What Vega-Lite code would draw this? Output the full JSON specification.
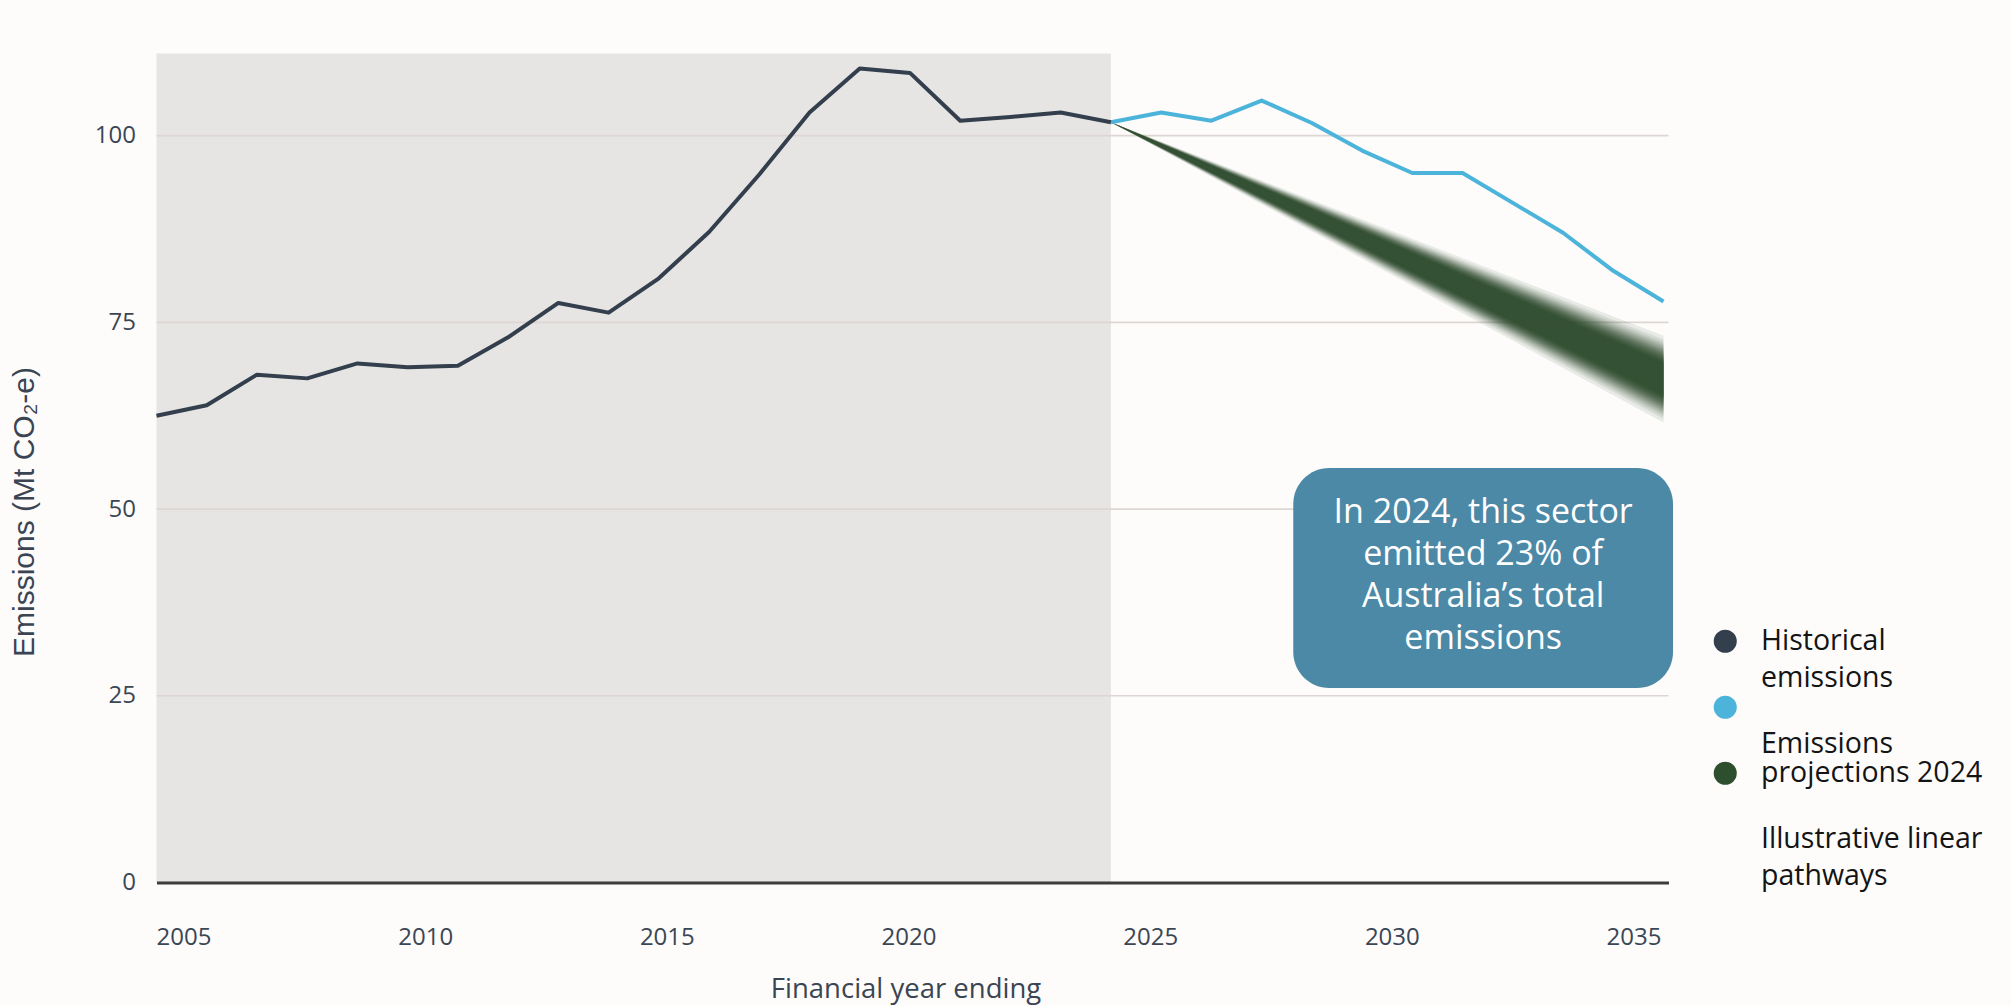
{
  "$schema": "https://vega.github.io/schema/vega-lite/v6.json",
  "width": 1512,
  "height": 829,
  "autosize": {"type": "none"},
  "padding": {"left": 156.5, "top": 53.5, "right": 342.5, "bottom": 123.5},
  "background": "#fdfcfb",
  "config": {
    "view": {"stroke": null},
    "font": "Open Sans",
    "style": {"guide-label": {"lineHeight": 37}}
  },
  "datasets": {
    "historical": [
      {"series": "Historical emissions", "year": 2005, "value": 62.5},
      {"series": "Historical emissions", "year": 2006, "value": 63.9},
      {"series": "Historical emissions", "year": 2007, "value": 68.0},
      {"series": "Historical emissions", "year": 2008, "value": 67.5},
      {"series": "Historical emissions", "year": 2009, "value": 69.5},
      {"series": "Historical emissions", "year": 2010, "value": 69.0},
      {"series": "Historical emissions", "year": 2011, "value": 69.2},
      {"series": "Historical emissions", "year": 2012, "value": 73.0},
      {"series": "Historical emissions", "year": 2013, "value": 77.6},
      {"series": "Historical emissions", "year": 2014, "value": 76.3},
      {"series": "Historical emissions", "year": 2015, "value": 80.9},
      {"series": "Historical emissions", "year": 2016, "value": 87.1},
      {"series": "Historical emissions", "year": 2017, "value": 94.8},
      {"series": "Historical emissions", "year": 2018, "value": 103.1},
      {"series": "Historical emissions", "year": 2019, "value": 109.0},
      {"series": "Historical emissions", "year": 2020, "value": 108.4},
      {"series": "Historical emissions", "year": 2021, "value": 102.0},
      {"series": "Historical emissions", "year": 2022, "value": 102.5},
      {"series": "Historical emissions", "year": 2023, "value": 103.1},
      {"series": "Historical emissions", "year": 2024, "value": 101.8}
    ],
    "projections": [
      {"series": "Emissions projections 2024", "year": 2024, "value": 101.8},
      {"series": "Emissions projections 2024", "year": 2025, "value": 103.1},
      {"series": "Emissions projections 2024", "year": 2026, "value": 102.0},
      {"series": "Emissions projections 2024", "year": 2027, "value": 104.7},
      {"series": "Emissions projections 2024", "year": 2028, "value": 101.7},
      {"series": "Emissions projections 2024", "year": 2029, "value": 98.0},
      {"series": "Emissions projections 2024", "year": 2030, "value": 95.0},
      {"series": "Emissions projections 2024", "year": 2031, "value": 95.0},
      {"series": "Emissions projections 2024", "year": 2032, "value": 91.0},
      {"series": "Emissions projections 2024", "year": 2033, "value": 87.0},
      {"series": "Emissions projections 2024", "year": 2034, "value": 81.9},
      {"series": "Emissions projections 2024", "year": 2035, "value": 77.8}
    ],
    "pathways": [
      {"series": "Illustrative linear pathways", "band": 1, "year": 2024, "lo": 101.8, "hi": 101.8},
      {"series": "Illustrative linear pathways", "band": 1, "year": 2035, "lo": 61.60, "hi": 73.20},
      {"series": "Illustrative linear pathways", "band": 2, "year": 2024, "lo": 101.8, "hi": 101.8},
      {"series": "Illustrative linear pathways", "band": 2, "year": 2035, "lo": 62.10, "hi": 72.70},
      {"series": "Illustrative linear pathways", "band": 3, "year": 2024, "lo": 101.8, "hi": 101.8},
      {"series": "Illustrative linear pathways", "band": 3, "year": 2035, "lo": 62.44, "hi": 72.36},
      {"series": "Illustrative linear pathways", "band": 4, "year": 2024, "lo": 101.8, "hi": 101.8},
      {"series": "Illustrative linear pathways", "band": 4, "year": 2035, "lo": 62.70, "hi": 72.10},
      {"series": "Illustrative linear pathways", "band": 5, "year": 2024, "lo": 101.8, "hi": 101.8},
      {"series": "Illustrative linear pathways", "band": 5, "year": 2035, "lo": 62.92, "hi": 71.89},
      {"series": "Illustrative linear pathways", "band": 6, "year": 2024, "lo": 101.8, "hi": 101.8},
      {"series": "Illustrative linear pathways", "band": 6, "year": 2035, "lo": 63.10, "hi": 71.70},
      {"series": "Illustrative linear pathways", "band": 7, "year": 2024, "lo": 101.8, "hi": 101.8},
      {"series": "Illustrative linear pathways", "band": 7, "year": 2035, "lo": 63.27, "hi": 71.53},
      {"series": "Illustrative linear pathways", "band": 8, "year": 2024, "lo": 101.8, "hi": 101.8},
      {"series": "Illustrative linear pathways", "band": 8, "year": 2035, "lo": 63.42, "hi": 71.38},
      {"series": "Illustrative linear pathways", "band": 9, "year": 2024, "lo": 101.8, "hi": 101.8},
      {"series": "Illustrative linear pathways", "band": 9, "year": 2035, "lo": 63.56, "hi": 71.24},
      {"series": "Illustrative linear pathways", "band": 10, "year": 2024, "lo": 101.8, "hi": 101.8},
      {"series": "Illustrative linear pathways", "band": 10, "year": 2035, "lo": 63.69, "hi": 71.11},
      {"series": "Illustrative linear pathways", "band": 11, "year": 2024, "lo": 101.8, "hi": 101.8},
      {"series": "Illustrative linear pathways", "band": 11, "year": 2035, "lo": 63.81, "hi": 70.99},
      {"series": "Illustrative linear pathways", "band": 12, "year": 2024, "lo": 101.8, "hi": 101.8},
      {"series": "Illustrative linear pathways", "band": 12, "year": 2035, "lo": 63.92, "hi": 70.88},
      {"series": "Illustrative linear pathways", "band": 13, "year": 2024, "lo": 101.8, "hi": 101.8},
      {"series": "Illustrative linear pathways", "band": 13, "year": 2035, "lo": 64.03, "hi": 70.77},
      {"series": "Illustrative linear pathways", "band": 14, "year": 2024, "lo": 101.8, "hi": 101.8},
      {"series": "Illustrative linear pathways", "band": 14, "year": 2035, "lo": 64.13, "hi": 70.67},
      {"series": "Illustrative linear pathways", "band": 15, "year": 2024, "lo": 101.8, "hi": 101.8},
      {"series": "Illustrative linear pathways", "band": 15, "year": 2035, "lo": 64.23, "hi": 70.58},
      {"series": "Illustrative linear pathways", "band": 16, "year": 2024, "lo": 101.8, "hi": 101.8},
      {"series": "Illustrative linear pathways", "band": 16, "year": 2035, "lo": 64.32, "hi": 70.48},
      {"series": "Illustrative linear pathways", "band": 17, "year": 2024, "lo": 101.8, "hi": 101.8},
      {"series": "Illustrative linear pathways", "band": 17, "year": 2035, "lo": 64.41, "hi": 70.39},
      {"series": "Illustrative linear pathways", "band": 18, "year": 2024, "lo": 101.8, "hi": 101.8},
      {"series": "Illustrative linear pathways", "band": 18, "year": 2035, "lo": 64.50, "hi": 70.31},
      {"series": "Illustrative linear pathways", "band": 19, "year": 2024, "lo": 101.8, "hi": 101.8},
      {"series": "Illustrative linear pathways", "band": 19, "year": 2035, "lo": 64.58, "hi": 70.22},
      {"series": "Illustrative linear pathways", "band": 20, "year": 2024, "lo": 101.8, "hi": 101.8},
      {"series": "Illustrative linear pathways", "band": 20, "year": 2035, "lo": 64.66, "hi": 70.14},
      {"series": "Illustrative linear pathways", "band": 21, "year": 2024, "lo": 101.8, "hi": 101.8},
      {"series": "Illustrative linear pathways", "band": 21, "year": 2035, "lo": 64.74, "hi": 70.06},
      {"series": "Illustrative linear pathways", "band": 22, "year": 2024, "lo": 101.8, "hi": 101.8},
      {"series": "Illustrative linear pathways", "band": 22, "year": 2035, "lo": 64.82, "hi": 69.98},
      {"series": "Illustrative linear pathways", "band": 23, "year": 2024, "lo": 101.8, "hi": 101.8},
      {"series": "Illustrative linear pathways", "band": 23, "year": 2035, "lo": 64.88, "hi": 69.92},
      {"series": "Illustrative linear pathways", "band": 24, "year": 2024, "lo": 101.8, "hi": 101.8},
      {"series": "Illustrative linear pathways", "band": 24, "year": 2035, "lo": 64.96, "hi": 69.84},
      {"series": "Illustrative linear pathways", "band": 25, "year": 2024, "lo": 101.8, "hi": 101.8},
      {"series": "Illustrative linear pathways", "band": 25, "year": 2035, "lo": 65.03, "hi": 69.77},
      {"series": "Illustrative linear pathways", "band": 26, "year": 2024, "lo": 101.8, "hi": 101.8},
      {"series": "Illustrative linear pathways", "band": 26, "year": 2035, "lo": 65.09, "hi": 69.71},
      {"series": "Illustrative linear pathways", "band": 27, "year": 2024, "lo": 101.8, "hi": 101.8},
      {"series": "Illustrative linear pathways", "band": 27, "year": 2035, "lo": 65.17, "hi": 69.64},
      {"series": "Illustrative linear pathways", "band": 28, "year": 2024, "lo": 101.8, "hi": 101.8},
      {"series": "Illustrative linear pathways", "band": 28, "year": 2035, "lo": 65.23, "hi": 69.57},
      {"series": "Illustrative linear pathways", "band": 29, "year": 2024, "lo": 101.8, "hi": 101.8},
      {"series": "Illustrative linear pathways", "band": 29, "year": 2035, "lo": 65.29, "hi": 69.51},
      {"series": "Illustrative linear pathways", "band": 30, "year": 2024, "lo": 101.8, "hi": 101.8},
      {"series": "Illustrative linear pathways", "band": 30, "year": 2035, "lo": 65.36, "hi": 69.44}
    ]
  },
  "layer": [
    {
      "data": {"values": [{"period": "Historical", "start": 2005, "end": 2024}]},
      "mark": {"type": "rect", "color": "#e6e5e4"},
      "encoding": {
        "x": {"field": "start", "type": "quantitative", "scale": {"domain": [2005, 2035.1], "nice": false, "zero": false}},
        "x2": {"field": "end"}
      }
    },
    {
      "data": {"values": [{"tick": 25}, {"tick": 50}, {"tick": 75}, {"tick": 100}]},
      "mark": {"type": "rule", "color": "#ded6d2", "strokeWidth": 1.6},
      "encoding": {
        "y": {"field": "tick", "type": "quantitative", "scale": {"domain": [0, 111], "nice": false}}
      }
    },
    {
      "data": {"name": "pathways"},
      "mark": {"type": "area", "opacity": 0.1},
      "encoding": {
        "x": {"field": "year", "type": "quantitative"},
        "y": {"field": "lo", "type": "quantitative"},
        "y2": {"field": "hi"},
        "detail": {"field": "band"},
        "color": {
          "field": "series",
          "type": "nominal",
          "scale": {
            "domain": ["Historical emissions", "Emissions projections 2024", "Illustrative linear pathways", "legend spacer"],
            "range": ["#333f4c", "#4cb3da", "#2d4f2e", "rgba(0,0,0,0)"]
          },
          "legend": {
            "orient": "none",
            "legendX": 1554.5,
            "legendY": 573.5,
            "title": null,
            "padding": 0,
            "symbolType": "circle",
            "symbolSize": 530,
            "symbolStrokeWidth": 0,
            "symbolOpacity": 1,
            "labelFont": "Open Sans",
            "labelFontSize": 28.5,
            "labelColor": "#141414",
            "labelLimit": 400,
            "labelOffset": 21.5,
            "labelBaseline": "middle",
            "rowPadding": 0,
            "gridAlign": "each",
            "labelExpr": "datum.label == 'Historical emissions' ? ['Historical', 'emissions'] : datum.label == 'Emissions projections 2024' ? ['\u200b', 'Emissions'] : datum.label == 'Illustrative linear pathways' ? ['projections 2024', '\u200b'] : ['Illustrative linear', 'pathways']"
          }
        }
      }
    },
    {
      "data": {"name": "projections"},
      "mark": {"type": "line", "strokeWidth": 4, "strokeJoin": "round"},
      "encoding": {
        "x": {"field": "year", "type": "quantitative"},
        "y": {"field": "value", "type": "quantitative"},
        "color": {"field": "series", "type": "nominal", "legend": null}
      }
    },
    {
      "data": {"name": "historical"},
      "mark": {"type": "line", "strokeWidth": 4, "strokeJoin": "round"},
      "encoding": {
        "x": {
          "field": "year",
          "type": "quantitative",
          "axis": {
            "title": "Financial year ending",
            "values": [2005, 2010, 2015, 2020, 2025, 2030, 2035],
            "format": "d",
            "grid": false,
            "ticks": false,
            "tickSize": 0,
            "domain": true,
            "domainColor": "#3c3c3c",
            "domainWidth": 3,
            "labelFont": "Open Sans",
            "labelFontSize": 24,
            "labelColor": "#3b4654",
            "labelPadding": 61.5,
            "labelBaseline": "alphabetic",
            "labelAlign": "center",
            "labelOffset": {"expr": "27 - 1.9 * (datum.value - 2005)"},
            "labelOverlap": false,
            "labelFlush": false,
            "labelBound": false,
            "titleFont": "Open Sans",
            "titleFontSize": 27.5,
            "titleFontWeight": "normal",
            "titleColor": "#3a4553",
            "titleX": 749,
            "titleY": 114.5,
            "titleAlign": "center",
            "titleBaseline": "alphabetic",
            "zindex": 1
          }
        },
        "y": {
          "field": "value",
          "type": "quantitative",
          "axis": {
            "title": "Emissions (Mt CO₂-e)",
            "values": [0, 25, 50, 75, 100],
            "grid": false,
            "domain": false,
            "ticks": false,
            "tickSize": 0,
            "labelFont": "Open Sans",
            "labelFontSize": 24,
            "labelColor": "#3b4654",
            "labelPadding": 21,
            "titleFont": "Liberation Sans",
            "titleFontSize": 30,
            "titleFontWeight": "normal",
            "titleColor": "#3a4452",
            "titleAngle": -90,
            "titleX": -123.5,
            "titleY": 458,
            "titleAlign": "center",
            "titleBaseline": "alphabetic"
          }
        },
        "color": {"field": "series", "type": "nominal", "legend": null}
      }
    },
    {
      "data": {"values": [{"note": "In 2024, this sector\nemitted 23% of\nAustralia’s total\nemissions"}]},
      "mark": {"type": "rect", "color": "#4b89a6", "cornerRadius": 36},
      "encoding": {
        "x": {"datum": 2027.63, "type": "quantitative"},
        "x2": {"datum": 2035.19},
        "y": {"datum": 55.49, "type": "quantitative"},
        "y2": {"datum": 26.04}
      }
    },
    {
      "data": {"values": [{"note": "In 2024, this sector\nemitted 23% of\nAustralia’s total\nemissions"}]},
      "mark": {"type": "text", "lineBreak": "\n", "lineHeight": 42, "fontSize": 34, "font": "Open Sans", "color": "#ffffff", "align": "center", "baseline": "middle"},
      "encoding": {
        "x": {"datum": 2031.41, "type": "quantitative"},
        "y": {"datum": 49.48, "type": "quantitative"},
        "text": {"field": "note"}
      }
    }
  ]
}
